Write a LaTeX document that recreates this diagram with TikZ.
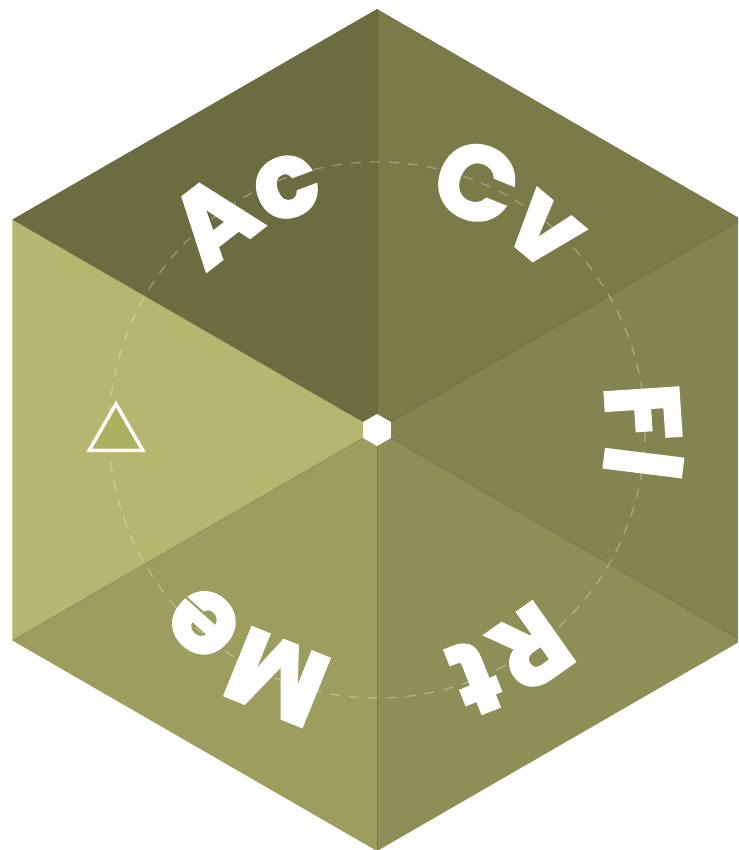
\documentclass[tikz,border=0pt]{standalone}
\usepackage{fontspec}
\usepackage{xcolor}
\newfontfamily\wedgefont{Poppins}[BoldFeatures={FakeBold=3}]
\usetikzlibrary{shapes.geometric,decorations.text}
\definecolor{wedgeac}{HTML}{6B6C40}
\definecolor{wedgecv}{HTML}{7A7B48}
\definecolor{wedgefl}{HTML}{838450}
\definecolor{wedgert}{HTML}{8E8F57}
\definecolor{wedgeme}{HTML}{9D9D5F}
\definecolor{wedgetri}{HTML}{B6B671}
\definecolor{trifill}{HTML}{A9B05E}
\tikzset{
  seam/.style    ={draw=black,draw opacity=0.18,line width=0.9pt},
  ring/.style    ={draw=white,draw opacity=0.3,line width=1.4pt,
                   dash pattern=on 10pt off 9pt},
  hub/.style     ={regular polygon,regular polygon sides=6,shape border rotate=30,
                   fill=white,inner sep=0pt,minimum size=32pt},
  tri/.style     ={regular polygon,regular polygon sides=3,draw=white,line width=3.5pt,
                   fill=trifill,inner sep=0pt,minimum size=62pt},
  arclabel/.style={decorate,decoration={text along path,text align=center,
                   text color=white,
                   text={|\wedgefont\bfseries\fontsize{104}{104}\selectfont|#1}}}
}

\begin{document}
\begin{tikzpicture}[x=1pt,y=1pt]
  \useasboundingbox (-377,-420) rectangle (361,430);
  \clip (-377,-420) rectangle (361,430);
  % six wedges of the hexagon
  \fill[wedgeac]  (0,0) -- (150:421) -- (90:421) -- cycle;
  \fill[wedgecv]  (0,0) -- (90:421) -- (30:421) -- cycle;
  \fill[wedgefl]  (0,0) -- (30:421) -- (-30:421) -- cycle;
  \fill[wedgert]  (0,0) -- (-30:421) -- (-90:421) -- cycle;
  \fill[wedgeme]  (0,0) -- (-90:421) -- (-150:421) -- cycle;
  \fill[wedgetri] (0,0) -- (-150:421) -- (150:421) -- cycle;
  \foreach \a in {90,30,-30,-90,-150,150}
    \draw[seam] (0,0) -- (\a:421);
  \draw[ring] (0,0) circle[radius=268];
  % labels on the ring
  \path[arclabel=Ac] (150:230) arc[start angle=150,end angle=90,radius=230];
  \path[arclabel=Cv] (90:230) arc[start angle=90,end angle=30,radius=230];
  \path[arclabel=Fl] (30:230) arc[start angle=30,end angle=-30,radius=230];
  \path[arclabel=Rt] (-30:230) arc[start angle=-30,end angle=-90,radius=230];
  \path[arclabel=Me] (-90:230) arc[start angle=-90,end angle=-150,radius=230];
  \node[hub] (hub) at (0,0) {};
  \node[tri] (tri) at (-261,-5) {};
\end{tikzpicture}
\end{document}
